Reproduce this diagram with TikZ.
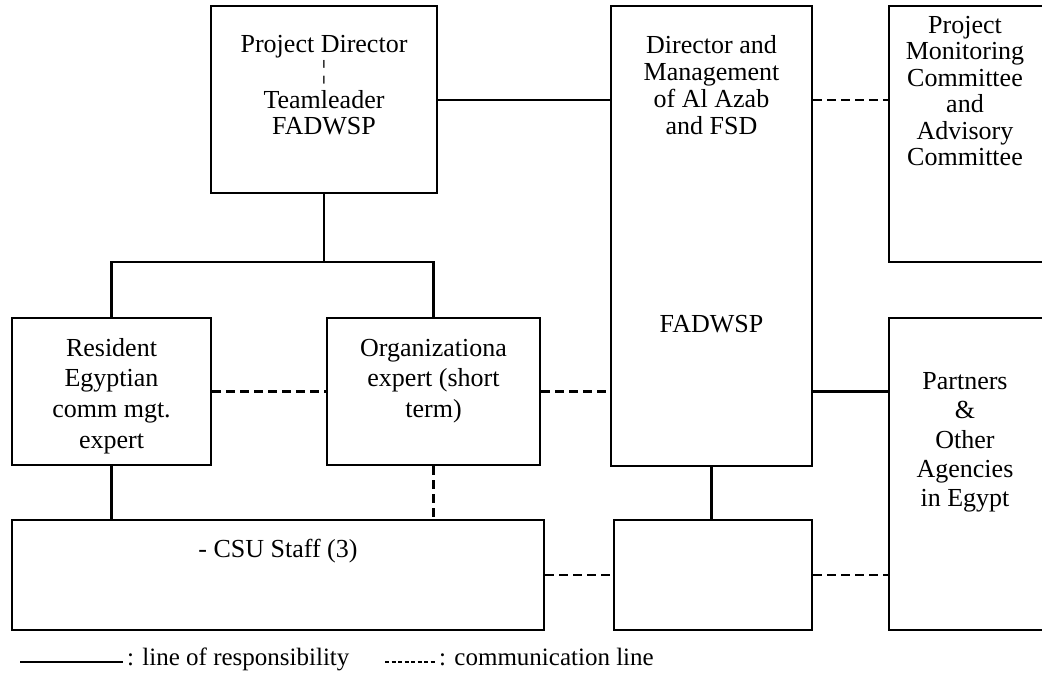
\documentclass[tikz,border=0pt]{standalone}
\usepackage{fontspec}
\setmainfont{Liberation Serif}
\begin{document}
\begin{tikzpicture}[x=1pt,y=-1pt,
  box/.style={draw,line width=2.5pt,rectangle,inner sep=0pt},
  lbl/.style={inner sep=0pt,text height=17pt,text depth=6pt,font=\fontsize{26}{28}\selectfont},
  solidline/.style={line width=2.5pt},
  dashline/.style={line width=2.5pt,dash pattern=on 9pt off 5pt},
  legtext/.style={inner sep=0pt,anchor=west,text height=17pt,text depth=6pt,font=\fontsize{25}{27}\selectfont}]
\useasboundingbox (0,0) rectangle (1042,689);
% boxes
\node[box,minimum width=226pt,minimum height=187pt] (pd) at (324,99.5) {};
\node[box,minimum width=201pt,minimum height=460pt] (dir) at (711.5,236) {};
\node[box,minimum width=161pt,minimum height=256pt] (pmc) at (969.5,134) {};
\node[box,minimum width=199pt,minimum height=147pt] (res) at (111.5,391.5) {};
\node[box,minimum width=213pt,minimum height=147pt] (org) at (433.5,391.5) {};
\node[box,minimum width=532pt,minimum height=110pt] (csu) at (278,575) {};
\node[box,minimum width=198pt,minimum height=110pt] (small) at (713,575) {};
\node[box,minimum width=161pt,minimum height=312pt] (part) at (969.5,474) {};
% texts
\node[lbl] (pd1) at (324,47) {Project Director};
\node[lbl] (pd2) at (324,73) {¦};
\node[lbl] (pd3) at (324,103) {Teamleader};
\node[lbl] (pd4) at (324,129) {FADWSP};
\node[lbl] (d1) at (711.5,48) {Director and};
\node[lbl] (d2) at (711.5,75) {Management};
\node[lbl] (d3) at (711.5,102) {of Al Azab};
\node[lbl] (d4) at (711.5,129) {and FSD};
\node[lbl] (d5) at (711.5,327) {FADWSP};
\node[lbl] (m1) at (965,28) {Project};
\node[lbl] (m2) at (965,54) {Monitoring};
\node[lbl] (m3) at (965,81) {Committee};
\node[lbl] (m4) at (965,107) {and};
\node[lbl] (m5) at (965,134) {Advisory};
\node[lbl] (m6) at (965,160) {Committee};
\node[lbl] (r1) at (111.5,351) {Resident};
\node[lbl] (r2) at (111.5,381) {Egyptian};
\node[lbl] (r3) at (111.5,412) {comm mgt.};
\node[lbl] (r4) at (111.5,443) {expert};
\node[lbl] (o1) at (433.5,351) {Organizationa};
\node[lbl] (o2) at (433.5,381) {expert (short};
\node[lbl] (o3) at (433.5,412) {term)};
\node[lbl] (c1) at (278,552) {- CSU Staff (3)};
\node[lbl] (p1) at (965,384) {Partners};
\node[lbl] (p2) at (965,413) {\&};
\node[lbl] (p3) at (965,443) {Other};
\node[lbl] (p4) at (965,472) {Agencies};
\node[lbl] (p5) at (965,501) {in Egypt};
% connectors
\coordinate (bus) at (324,262);
\draw[solidline] (pd.east |- 0,100) -- (dir.west |- 0,100);
\draw[dashline] (dir.east |- 0,100) -- (pmc.west |- 0,100);
\draw[solidline] (pd.south) -- (bus);
\draw[solidline] (res.north) -- (res.north |- bus) -- (org.north |- bus) -- (org.north);
\draw[dashline] (res.east) -- (org.west);
\draw[dashline] (org.east) -- (dir.west |- org.east);
\draw[solidline] (dir.east |- org.east) -- (part.west |- org.east);
\draw[solidline] (res.south) -- (res.south |- csu.north);
\draw[dashline] (org.south) -- (org.south |- csu.north);
\draw[solidline] (dir.south) -- (dir.south |- small.north);
\draw[dashline] (csu.east) -- (small.west);
\draw[dashline] (small.east) -- (part.west |- small.east);
% legend
\coordinate (ls1) at (20,662);
\coordinate (ls2) at (123,662);
\coordinate (ld1) at (385,662);
\coordinate (ld2) at (435,662);
\draw[line width=2pt] (ls1) -- (ls2);
\node[legtext] (lt1) at (127,660) {: line of responsibility};
\draw[line width=2pt,dash pattern=on 4pt off 2.5pt] (ld1) -- (ld2);
\node[legtext] (lt2) at (439,660) {: communication line};
\end{tikzpicture}
\end{document}
